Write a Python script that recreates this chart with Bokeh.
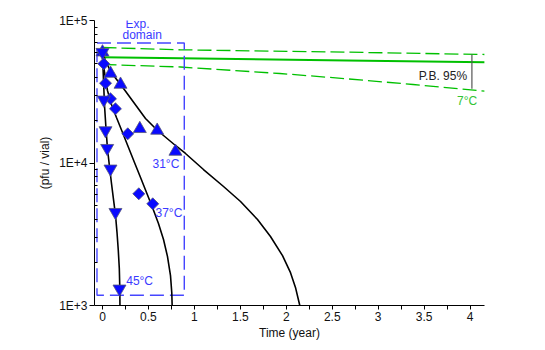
from bokeh.plotting import figure
from bokeh.models import Range1d, FixedTicker, Label
from bokeh.embed import file_html
from bokeh.resources import INLINE

# ---------------- data ----------------
# measured titres (pfu / vial) vs time (year)
t_31 = [0.0, 0.087, 0.196, 0.406, 0.595, 0.794]
pfu_31 = [59940, 42470, 35560, 17380, 16910, 12040]

t_37 = [0.014, 0.033, 0.087, 0.141, 0.275, 0.395, 0.547]
pfu_37 = [49670, 36310, 28220, 24010, 16030, 6080, 5170]

t_45 = [0.0, 0.014, 0.033, 0.051, 0.087, 0.141, 0.185]
pfu_45 = [59940, 27760, 16910, 12700, 9105, 4515, 1310]

# fitted curves
fit31_t = [0.0, 0.087, 0.229, 0.468, 0.599, 0.794, 0.903, 1.099, 1.317, 1.502,
           1.687, 1.828, 1.959, 2.046, 2.100, 2.147]
fit31_pfu = [58680, 43860, 33330, 20530, 16910, 13270, 11660, 9000, 6840, 5370,
             4010, 3050, 2240, 1700, 1340, 1000]

fit37_t = [0.0, 0.022, 0.054, 0.098, 0.152, 0.218, 0.283, 0.348, 0.414, 0.479,
           0.544, 0.609, 0.664, 0.707, 0.740, 0.754, 0.758]
fit37_pfu = [58680, 43160, 32270, 25730, 20860, 16370, 12850, 10080, 7910, 6210,
             4870, 3760, 2905, 2210, 1620, 1230, 1000]

fit45_t = [0.0, 0.011, 0.022, 0.038, 0.054, 0.076, 0.098, 0.120, 0.142, 0.158,
           0.172, 0.183, 0.188, 0.190]
fit45_pfu = [58680, 37930, 25320, 17460, 12640, 9450, 7180, 5540, 4280, 3250,
             2430, 1820, 1360, 1000]

# 7 degC prediction and 95 % prediction band
t_7 = [0.0, 0.85, 2.66, 4.16]
pfu_7 = [55260, 54380, 52400, 50980]
t_7_upper = [0.0, 0.85, 2.66, 4.16]
pfu_7_upper = [64640, 62280, 59940, 57730]
t_7_lower = [0.0, 0.85, 1.93, 2.66, 3.38, 4.16]
pfu_7_lower = [49120, 47170, 42470, 38980, 35560, 31910]

# prediction-band bracket at 4 years
pb_t = [4.02, 4.02]
pb_pfu = [57800, 33200]

# experimental domain box
exp_t = [-0.06, 0.89]
exp_pfu = [1180, 69600]

# ticks
x_ticks = [0, 0.5, 1, 1.5, 2, 2.5, 3, 3.5, 4]
x_tick_labels = ["0", "0.5", "1", "1.5", "2", "2.5", "3", "3.5", "4"]
x_minor = [0.25, 0.75, 1.25, 1.75, 2.25, 2.75, 3.25, 3.75]
y_ticks = [1000, 10000, 100000]
y_tick_labels = ["1E+3", "1E+4", "1E+5"]
y_minor = [m * 10 ** e for e in (3, 4) for m in range(2, 10)]

FONT = "Liberation Sans"
BLUE = "#0a0aff"
BLUE_TXT = "#3a3aff"
GREEN = "#00c000"
GREEN_TXT = "#33c433"

p = figure(width=545, height=350, output_backend="svg", toolbar_location=None,
           x_range=Range1d(-0.087, 4.157), y_range=Range1d(1000, 100000),
           y_axis_type="log",
           min_border_left=94, min_border_right=61, min_border_top=20,
           min_border_bottom=45)
p.outline_line_color = None
p.xgrid.visible = False
p.ygrid.visible = False
p.background_fill_color = "white"
p.border_fill_color = "white"

# axes
xa = p.xaxis[0]
xa.ticker = FixedTicker(ticks=x_ticks, minor_ticks=x_minor)
xa.major_label_overrides = {float(k): v for k, v in zip(x_ticks, x_tick_labels)}
xa.axis_label = "Time (year)"
xa.major_tick_out = 4
xa.major_tick_in = 0
xa.minor_tick_out = 4
xa.minor_tick_in = 0
xa.major_label_standoff = 2
xa.axis_label_standoff = 2

ya = p.yaxis[0]
ya.ticker = FixedTicker(ticks=y_ticks, minor_ticks=y_minor)
ya.major_label_overrides = {int(k): v for k, v in zip(y_ticks, y_tick_labels)}
ya.axis_label = "(pfu / vial)"
ya.major_tick_out = 5
ya.major_tick_in = 0
ya.minor_tick_out = 0
ya.minor_tick_in = 3
ya.major_label_standoff = 2
ya.axis_label_standoff = 4

for ax in (xa, ya):
    ax.axis_line_color = "black"
    ax.major_tick_line_color = "black"
    ax.minor_tick_line_color = "black"
    ax.major_label_text_font = FONT
    ax.major_label_text_font_size = "12px"
    ax.major_label_text_color = "#111111"
    ax.axis_label_text_font = FONT
    ax.axis_label_text_font_size = "12px"
    ax.axis_label_text_font_style = "normal"
    ax.axis_label_text_color = "#111111"

# 7 degC prediction
p.line(t_7_upper, pfu_7_upper, line_color=GREEN, line_width=1.3, line_dash="14 5")
p.line(t_7_lower, pfu_7_lower, line_color=GREEN, line_width=1.3, line_dash="14 5")
p.line(t_7, pfu_7, line_color=GREEN, line_width=2)
p.line(pb_t, pb_pfu, line_color="#555555", line_width=1.2)

# experimental domain
p.quad(left=[exp_t[0]], right=[exp_t[1]], bottom=[exp_pfu[0]], top=[exp_pfu[1]],
       fill_color=None, line_color="#4646ff", line_width=1.4, line_dash="14 6")

# fitted curves
for tt, yy in ((fit31_t, fit31_pfu), (fit37_t, fit37_pfu), (fit45_t, fit45_pfu)):
    p.line(tt, yy, line_color="black", line_width=1.6)

# measurements
p.scatter(t_31, pfu_31, marker="triangle", size=13, fill_color=BLUE,
          line_color="#555577", line_width=0.8)
p.scatter(t_37, pfu_37, marker="square", size=8.5, angle=0.785398,
          fill_color=BLUE, line_color="#555577", line_width=0.8)
p.scatter(t_45, pfu_45, marker="inverted_triangle", size=13, fill_color=BLUE,
          line_color="#555577", line_width=0.8)

# labels
def add_label(x, y, text, color, align="left"):
    p.add_layout(Label(x=x, y=y, text=text, text_font=FONT, text_font_size="12px",
                       text_color=color, text_align=align, text_baseline="middle"))

add_label(0.381, 94800, "Exp.", BLUE_TXT, "center")
add_label(0.432, 78480, "domain", BLUE_TXT, "center")
add_label(0.544, 9870, "31°C", BLUE_TXT)
add_label(0.577, 4443, "37°C", BLUE_TXT)
add_label(0.258, 1497, "45°C", BLUE_TXT)
add_label(3.968, 40650, "P.B. 95%", "#222222", "right")
add_label(4.077, 27150, "7°C", GREEN_TXT, "right")

open("out.html", "w").write(file_html(p, INLINE))
